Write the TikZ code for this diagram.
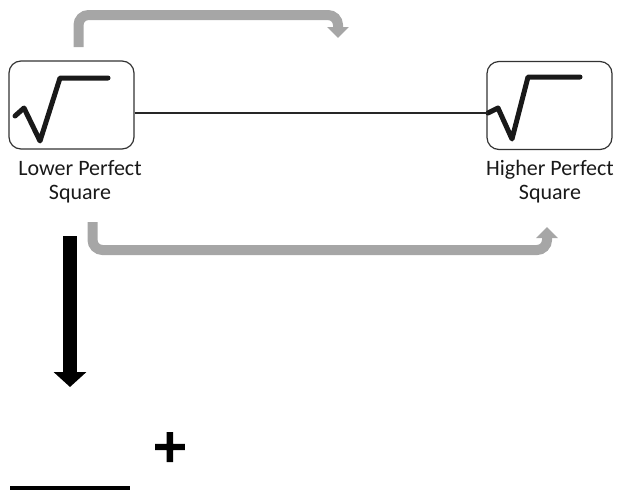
\documentclass[tikz,border=0pt]{standalone}
\usepackage{fontspec}
\setmainfont{Carlito}
\newfontfamily\plusfont[BoldFeatures={FakeBold=2.5}]{DejaVu Sans}
\usetikzlibrary{arrows.meta,positioning,calc}
\definecolor{arrowgray}{HTML}{A6A6A6}

\tikzset{
  sqbox/.style={draw=black!80, line width=1.2pt, rounded corners=12pt,
                minimum width=125pt, minimum height=88pt, inner sep=0},
  rootsign/.style={line width=5pt, line join=round, line cap=round, black!90},
  bendarrow/.style={draw=arrowgray, line width=10pt, rounded corners=10pt,
                    -{Triangle[width=21pt,length=11pt]}},
  lbl/.style={align=center, inner sep=0, text=black!90,
              font=\fontsize{22}{24.5}\selectfont}
}

\begin{document}
\begin{tikzpicture}[x=1pt,y=-1pt]
      \useasboundingbox (0,0) rectangle (620,493);

      \node[sqbox] at (71.5,105) (lower) {};
      \node[sqbox] at (549.5,105.5) (higher) {};

      % root signs
      \coordinate (L0) at ( 15,116);
      \coordinate (L1) at ( 24,108);
      \coordinate (L2) at ( 40,141);
      \coordinate (L3) at ( 60, 78);
      \coordinate (L4) at (108, 78);

      \coordinate (H0) at (488,113);
      \coordinate (H1) at (498,108);
      \coordinate (H2) at (512,139);
      \coordinate (H3) at (528, 77);
      \coordinate (H4) at (580, 77);

      \draw[rootsign] (L0)--(L1)--(L2)--(L3)--(L4);
      \draw[rootsign] (H0)--(H1)--(H2)--(H3)--(H4);

      \coordinate (lowside) at (lower.east |- H0);
      \draw[line width=1.2pt, black!85] (lowside)--(H0);

      \node[lbl, anchor=north] at ( 80,160) (lowtxt) {Lower Perfect\\Square};
      \node[lbl, anchor=north] at (550,160) (hightxt) {Higher Perfect\\Square};

      % gray bent arrows
      \coordinate (t0) at ( 78.5, 47);
      \coordinate (t1) at (338,   38);
      \draw[bendarrow] (t0) |- ($(t1)+(0,-23)$) -- (t1);

      \coordinate (b0) at ( 92.5,222);
      \coordinate (b1) at (547,  227);
      \draw[bendarrow] (b0) |- ($(b1)+(0,23)$) -- (b1);

      % black arrow down
      \coordinate (d0) at (70,236);
      \coordinate (d1) at (70,387);
      \draw[line width=14pt, -{Triangle[width=32pt,length=15pt]}] (d0)--(d1);

      \node at (170,447) (plus) {\plusfont\bfseries\fontsize{46}{46}\selectfont +};

      \coordinate (m0) at ( 10,488);
      \coordinate (m1) at (130,488);
      \draw[line width=4pt] (m0)--(m1);

    \end{tikzpicture}
\end{document}
